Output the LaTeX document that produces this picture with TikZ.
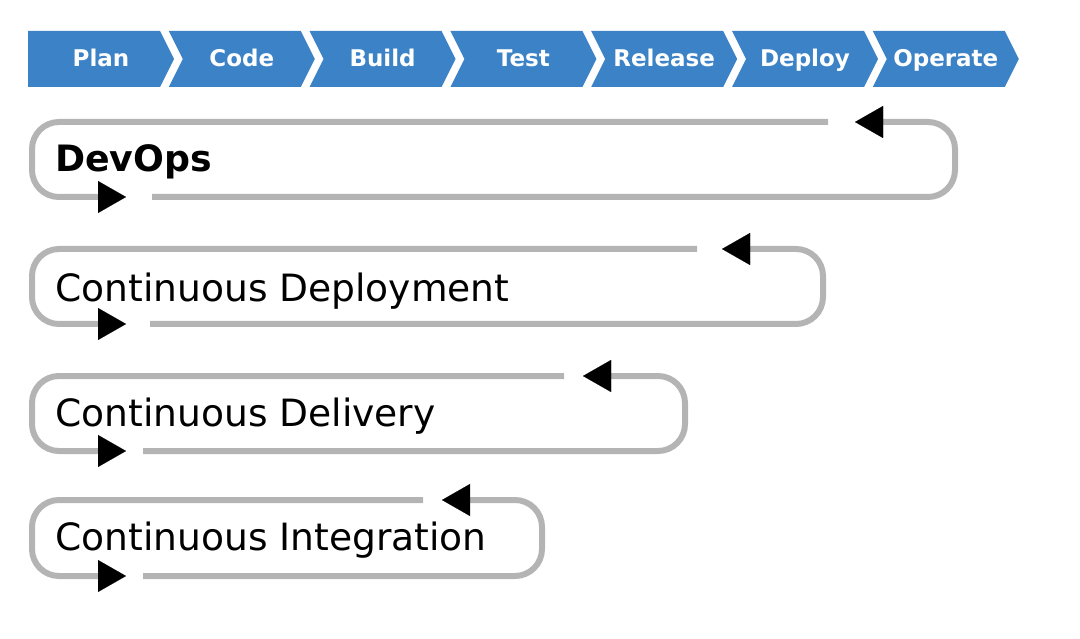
\documentclass[tikz,border=0pt]{standalone}
\usepackage{fontspec}
\setmainfont{DejaVu Sans}
\usetikzlibrary{arrows.meta}
\definecolor{chevblue}{RGB}{60,130,199}
\definecolor{loopgray}{RGB}{180,180,180}
\begin{document}
\begin{tikzpicture}[x=1pt,y=-1pt,
  loopline/.style={draw=loopgray,line width=6pt,rounded corners=27pt,
    -{Triangle[length=28pt,width=32pt,color=black,fill=black,line width=0.01pt]}},
  chevlabel/.style={text=white,font=\fontsize{23}{27}\selectfont\bfseries,anchor=base,inner sep=0pt},
  looplabel/.style={anchor=base west,inner sep=0pt,font=\fontsize{37.6}{44}\selectfont},
  boldlabel/.style={anchor=base west,inner sep=0pt,font=\fontsize{36.3}{42}\selectfont\bfseries}]
\useasboundingbox (0,0) rectangle (1080,639);
% chevrons
\fill[chevblue] (28,31) -- (160,31) -- (174,59) -- (160,87) -- (28,87) -- cycle;
\node[chevlabel] (c0) at (101,67) {Plan};
\foreach \i/\lab in {1/Code,2/Build,3/Test,4/Release,5/Deploy,6/Operate}{
  \pgfmathsetmacro{\xo}{28+140.8*\i}
  \fill[chevblue] (\xo,31) -- ({\xo+132},31) -- ({\xo+146},59) -- ({\xo+132},87)
     -- (\xo,87) -- ({\xo+14},59) -- cycle;
  \node[chevlabel] (c\i) at ({\xo+73},67) {\lab};
}
% loops
\foreach \i/\T/\B/\R/\E/\P/\S in {1/122/197/955/828/855/152,2/249/324/823/697/722/150,3/376/451/685/564/583/143,4/500/576/542/423/442/143}{
  \coordinate (ta\i) at (\E,\T);
  \coordinate (tl\i) at (32,\T);
  \coordinate (bl\i) at (32,\B);
  \coordinate (ba\i) at (126,\B);
  \coordinate (bs\i) at (\S,\B);
  \coordinate (br\i) at (\R,\B);
  \coordinate (tr\i) at (\R,\T);
  \coordinate (tt\i) at (\P,\T);
  \draw[loopline] (ta\i) -- (tl\i) -- (bl\i) -- (ba\i);
  \draw[loopline] (bs\i) -- (br\i) -- (tr\i) -- (tt\i);
}
\node[boldlabel] (l1) at (55,172) {DevOps};
\node[looplabel] (l2) at (55,302) {Continuous Deployment};
\node[looplabel] (l3) at (55,426) {Continuous Delivery};
\node[looplabel] (l4) at (55,550) {Continuous Integration};
\end{tikzpicture}
\end{document}
